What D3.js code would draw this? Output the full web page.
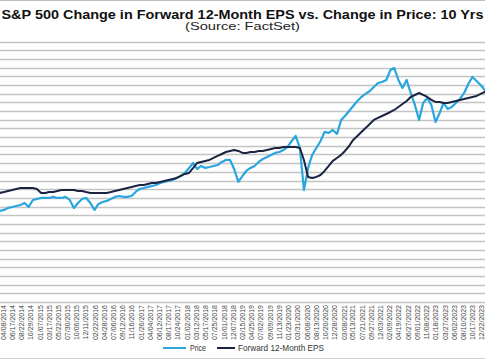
<!DOCTYPE html>
<html><head><meta charset="utf-8">
<script src="https://cdn.jsdelivr.net/npm/d3@7"></script>
<style>html,body{margin:0;padding:0;background:#fff;overflow:hidden}svg{display:block}</style>
</head><body>
<script>
// ---- data (percent change; monthly, starting Mar 2014) ----
const startYear = 2014, startMonth = 2; // March 2014
const price = [-5.1,-3.9,-1.6,-0.5,0.7,1.8,4.1,-0.5,7.6,8.8,
 9.9,9.9,9.9,11.1,9.9,9.9,11.1,7.6,-1.6,4.1,8.8,9.9,
 4.1,-3.9,3.0,5.3,6.5,8.8,11.1,12.2,11.1,11.1,12.2,16.8,
 20.3,21.4,22.6,23.7,24.9,27.2,28.4,29.5,30.7,33.0,35.3,38.7,
 44.5,50.2,43.3,46.8,44.5,45.6,46.8,47.9,51.4,53.7,53.7,43.3,
 28.4,35.3,41.0,44.5,46.8,51.4,54.8,57.1,59.4,61.8,62.9,65.2,
 68.7,75.6,81.4,67.5,19.1,44.5,59.4,67.5,75.6,86.0,84.8,88.3,
 83.7,99.8,104.4,110.2,115.9,121.7,126.3,129.8,133.2,137.8,142.4,143.6,
 145.9,157.4,159.7,145.9,136.7,145.9,130.9,117.1,99.8,119.4,125.2,117.1,
 97.5,107.9,119.4,112.5,114.8,119.4,124.0,130.9,141.3,149.4,144.7,140.1,
 134.4,132.1];
const eps = [15.7,16.8,18.0,19.1,20.3,21.4,21.4,21.4,21.4,20.3,
 15.7,15.7,16.8,16.8,18.0,19.1,19.1,19.1,19.1,18.0,18.0,16.8,
 15.7,15.7,15.7,15.7,15.7,16.8,18.0,19.1,20.3,21.4,22.6,23.7,
 24.9,24.9,26.0,27.2,27.2,28.4,29.5,30.7,31.8,33.0,35.3,37.6,
 38.7,44.5,50.2,51.4,52.6,53.7,56.0,58.3,60.6,62.9,64.1,65.2,
 64.1,61.8,61.8,62.9,62.9,64.1,64.1,65.2,66.4,67.5,67.5,68.7,
 68.7,68.7,68.7,67.5,53.7,34.1,33.0,34.1,36.4,41.0,46.8,52.6,
 56.0,59.5,64.1,69.8,76.8,81.4,86.0,90.6,95.2,99.8,102.2,104.4,
 106.7,109.0,111.3,114.8,118.2,121.7,126.3,128.6,130.9,128.6,126.3,122.9,
 120.6,120.6,119.4,119.4,120.6,121.7,122.9,124.0,125.2,126.3,127.5,129.8,
 132.1,133.2];
const tickLabels = ["04/08/2014","06/17/2014","08/22/2014","10/29/2014","01/07/2015","03/17/2015",
 "05/22/2015","07/30/2015","10/06/2015","12/11/2015","02/22/2016","04/28/2016","07/06/2016",
 "09/12/2016","11/16/2016","01/26/2017","04/04/2017","06/12/2017","08/17/2017","10/24/2017",
 "01/02/2018","03/12/2018","05/17/2018","07/25/2018","10/01/2018","12/07/2018","02/15/2019",
 "04/25/2019","07/02/2019","09/09/2019","11/13/2019","01/23/2020","03/31/2020","06/08/2020",
 "08/13/2020","10/20/2020","12/28/2020","03/08/2021","05/13/2021","07/21/2021","09/27/2021",
 "12/03/2021","02/09/2022","04/19/2022","06/27/2022","09/01/2022","11/08/2022","01/18/2023",
 "03/27/2023","06/02/2023","08/10/2023","10/17/2023","12/22/2023"];
const gridValues = d3.range(-110, 191, 10);
const seriesNames = ["Price", "Forward 12-Month EPS"];
const colors = {price: "#2aa6df", eps: "#1b2442"};

const W = 485, H = 360;
const dates = price.map((_, i) => new Date(startYear, startMonth + i, 15));
const x = d3.scaleTime().domain([new Date(2014,2,15), new Date(2024,0,15)]).range([-0.2, 484.8]);
const y = d3.scaleLinear().domain([-110, 190]).range([302, 41.7]);

const svg = d3.select("body").append("svg").attr("width", W).attr("height", H);
svg.append("rect").attr("width", W).attr("height", H).attr("fill", "#fff");

// borders
svg.append("line").attr("x1",0).attr("x2",W).attr("y1",0.5).attr("y2",0.5).attr("stroke","#bdbdbd");
svg.append("line").attr("x1",0).attr("x2",W).attr("y1",358.5).attr("y2",358.5).attr("stroke","#cfcfcf");

// title
svg.append("text").attr("x", 242.5).attr("y", 18.5).attr("text-anchor","middle")
  .attr("font-family","Liberation Sans, Arial, sans-serif").attr("font-weight","bold")
  .attr("font-size", 12.5).attr("fill","#111")
  .attr("textLength", 482).attr("lengthAdjust","spacingAndGlyphs")
  .text("S&P 500 Change in Forward 12-Month EPS vs. Change in Price: 10 Yrs");
svg.append("text").attr("x", 242.5).attr("y", 30).attr("text-anchor","middle")
  .attr("font-family","Liberation Sans, Arial, sans-serif")
  .attr("font-size", 11.5).attr("fill","#222")
  .attr("textLength", 115).attr("lengthAdjust","spacingAndGlyphs")
  .text("(Source: FactSet)");

// gridlines
svg.append("g").selectAll("line").data(gridValues).join("line")
  .attr("x1", 0).attr("x2", W)
  .attr("y1", d => Math.round(y(d)) + 0.5).attr("y2", d => Math.round(y(d)) + 0.5)
  .attr("stroke", "#c4c4c4").attr("stroke-width", 1.4);

// x labels
const parse = d3.timeParse("%m/%d/%Y");
svg.append("g").selectAll("text").data(tickLabels).join("text")
  .attr("transform", d => `translate(${x(parse(d)) + 2.5},305) rotate(-90)`)
  .attr("text-anchor","end")
  .attr("font-family","Liberation Sans, Arial, sans-serif")
  .attr("font-size", 7).attr("fill","#444")
  .text(d => d);

// lines
const line = d3.line().x((d, i) => x(dates[i])).y(d => y(d));
svg.append("path").datum(price).attr("d", line).attr("fill","none")
  .attr("stroke", colors.price).attr("stroke-width", 2.2).attr("stroke-linejoin","round");
svg.append("path").datum(eps).attr("d", line).attr("fill","none")
  .attr("stroke", colors.eps).attr("stroke-width", 2).attr("stroke-linejoin","round");

// legend
const lg = svg.append("g").attr("font-family","Liberation Sans, Arial, sans-serif").attr("font-size", 8.5).attr("fill","#333");
lg.append("line").attr("x1",163).attr("x2",186).attr("y1",348).attr("y2",348).attr("stroke",colors.price).attr("stroke-width",2);
lg.append("text").attr("x",190).attr("y",351).attr("textLength",16).attr("lengthAdjust","spacingAndGlyphs").text(seriesNames[0]);
lg.append("line").attr("x1",217).attr("x2",235).attr("y1",348).attr("y2",348).attr("stroke",colors.eps).attr("stroke-width",2);
lg.append("text").attr("x",238).attr("y",351).attr("textLength",86).attr("lengthAdjust","spacingAndGlyphs").text(seriesNames[1]);
</script>
</body></html>
